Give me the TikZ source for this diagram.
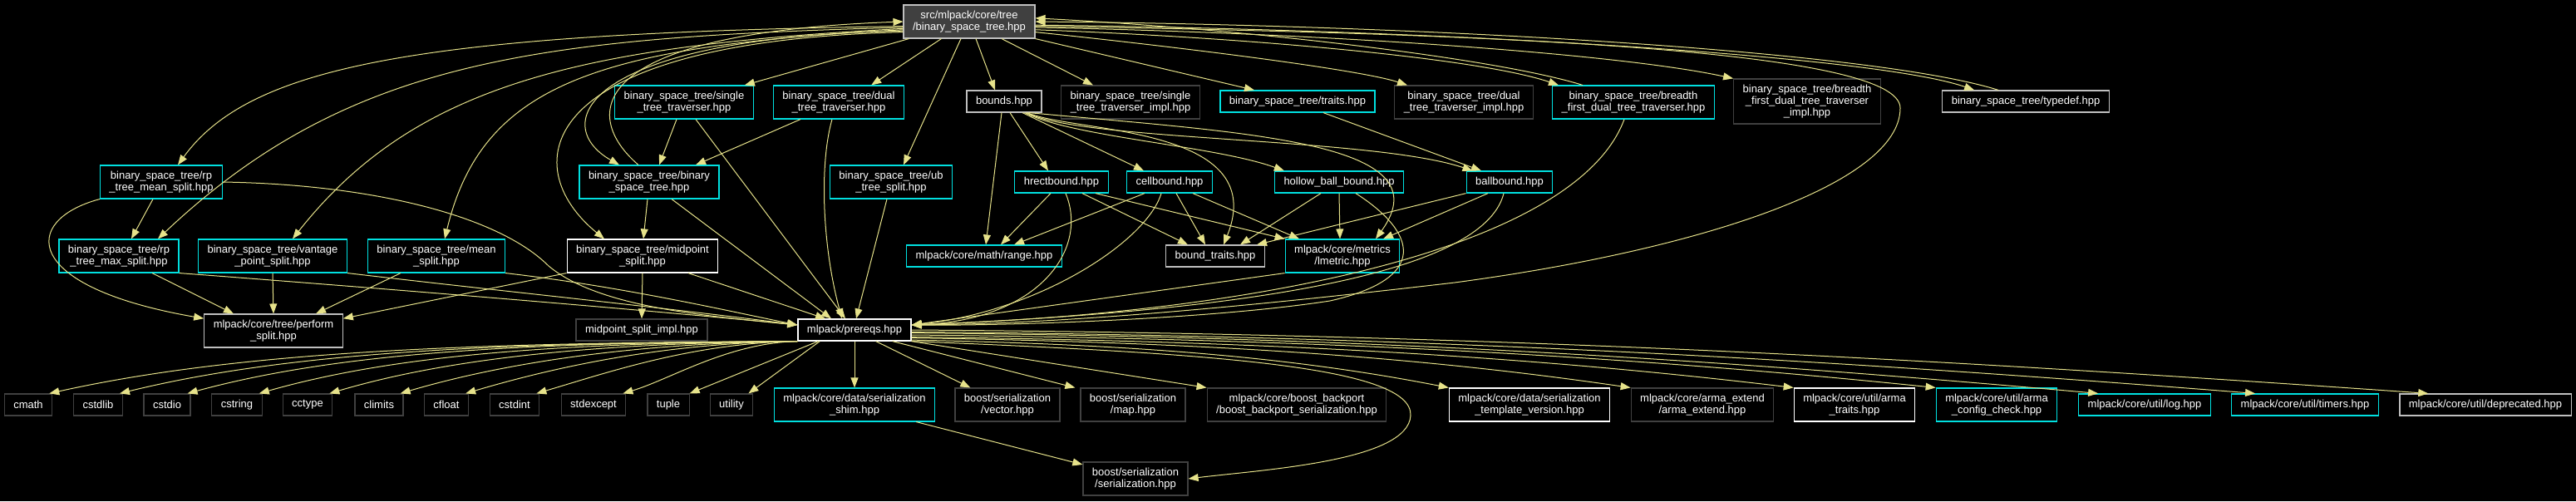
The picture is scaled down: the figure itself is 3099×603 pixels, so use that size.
\documentclass[tikz,border=0pt]{standalone}
\usepackage{fontspec}
\setmainfont{Liberation Sans}
\usetikzlibrary{arrows.meta}
\definecolor{doxcyan}{HTML}{00E0E0}
\definecolor{doxgrey}{HTML}{BFBFBF}
\definecolor{doxdark}{HTML}{404040}
\definecolor{doxedge}{HTML}{E6E28A}
\tikzset{
  >={Triangle[length=12pt,width=9pt]},
  file/.style={rectangle,draw,line width=1.2pt,text=white,align=center,
               inner xsep=11pt,inner ysep=6.9pt,minimum height=26pt,
               font=\fontsize{13}{14}\selectfont},
  docfile/.style={file,draw=doxcyan},
  plainfile/.style={file,draw=white},
  greyfile/.style={file,draw=doxgrey},
  extfile/.style={file,draw=doxdark},
  rootfile/.style={file,draw=doxgrey,fill=doxdark},
  dep/.style={->,color=doxedge,line width=1pt},
}
\begin{document}
\begin{tikzpicture}[x=1pt,y=-1pt]
    \fill[black] (0,0) rectangle (3099,603);
    \useasboundingbox (0,0) rectangle (3099,603);

    % Root
    \node[rootfile] (root) at (1166,26) {src/mlpack/core/tree\\/binary\_space\_tree.hpp};

    % First row
    \node[docfile]  (single)     at (823,123)  {binary\_space\_tree/single\\\_tree\_traverser.hpp};
    \node[docfile]  (dual)       at (1009,123) {binary\_space\_tree/dual\\\_tree\_traverser.hpp};
    \node[greyfile] (bounds)     at (1208,122) {bounds.hpp};
    \node[extfile]  (singleimpl) at (1360,123) {binary\_space\_tree/single\\\_tree\_traverser\_impl.hpp};
    \node[docfile]  (traits)     at (1561,122) {binary\_space\_tree/traits.hpp};
    \node[extfile]  (dualimpl)   at (1761,123) {binary\_space\_tree/dual\\\_tree\_traverser\_impl.hpp};
    \node[docfile]  (bfdual)     at (1965,123) {binary\_space\_tree/breadth\\\_first\_dual\_tree\_traverser.hpp};
    \node[extfile]  (bfimpl)     at (2174,122) {binary\_space\_tree/breadth\\\_first\_dual\_tree\_traverser\\\_impl.hpp};
    \node[greyfile] (typedef)    at (2437,122) {binary\_space\_tree/typedef.hpp};

    % Second row
    \node[docfile] (rpmean) at (194,219)  {binary\_space\_tree/rp\\\_tree\_mean\_split.hpp};
    \node[docfile] (bst)    at (781,219)  {binary\_space\_tree/binary\\\_space\_tree.hpp};
    \node[docfile] (ub)     at (1072,219) {binary\_space\_tree/ub\\\_tree\_split.hpp};
    \node[docfile] (hrect)  at (1277,219) {hrectbound.hpp};
    \node[docfile] (cell)   at (1407,219) {cellbound.hpp};
    \node[docfile] (hollow) at (1611,219) {hollow\_ball\_bound.hpp};
    \node[docfile] (ball)   at (1816,219) {ballbound.hpp};

    % Third row
    \node[docfile]   (rpmax)       at (143,308)  {binary\_space\_tree/rp\\\_tree\_max\_split.hpp};
    \node[docfile]   (vantage)     at (328,308)  {binary\_space\_tree/vantage\\\_point\_split.hpp};
    \node[docfile]   (mean)        at (525,308)  {binary\_space\_tree/mean\\\_split.hpp};
    \node[plainfile] (midpoint)    at (773,308)  {binary\_space\_tree/midpoint\\\_split.hpp};
    \node[docfile]   (range)       at (1184,308) {mlpack/core/math/range.hpp};
    \node[greyfile]  (boundtraits) at (1462,308) {bound\_traits.hpp};
    \node[docfile]   (lmetric)     at (1615,308) {mlpack/core/metrics\\/lmetric.hpp};

    % Fourth row
    \node[greyfile]  (perform) at (329,398)  {mlpack/core/tree/perform\\\_split.hpp};
    \node[extfile]   (midimpl) at (772,397)  {midpoint\_split\_impl.hpp};
    \node[plainfile] (prereqs) at (1028,397) {mlpack/prereqs.hpp};

    % Fifth row
    \foreach \n/\x in {cmath/34,cstdlib/118,cstdio/201,cstring/285,cctype/370,
                       climits/456,cfloat/537,cstdint/619,stdexcept/714,
                       tuple/804,utility/880}
      \node[extfile] (\n) at (\x,487) {\n};
    \node[docfile]   (shim)       at (1028,487) {mlpack/core/data/serialization\\\_shim.hpp};
    \node[extfile]   (vector)     at (1212,487) {boost/serialization\\/vector.hpp};
    \node[extfile]   (map)        at (1363,487) {boost/serialization\\/map.hpp};
    \node[extfile]   (backport)   at (1560,487) {mlpack/core/boost\_backport\\/boost\_backport\_serialization.hpp};
    \node[plainfile] (tmplver)    at (1840,487) {mlpack/core/data/serialization\\\_template\_version.hpp};
    \node[extfile]   (armaext)    at (2048,487) {mlpack/core/arma\_extend\\/arma\_extend.hpp};
    \node[plainfile] (armatraits) at (2231,487) {mlpack/core/util/arma\\\_traits.hpp};
    \node[docfile]   (armacfg)    at (2402,487) {mlpack/core/util/arma\\\_config\_check.hpp};
    \node[docfile]   (log)        at (2580,487) {mlpack/core/util/log.hpp};
    \node[docfile]   (timers)     at (2773,487) {mlpack/core/util/timers.hpp};
    \node[greyfile]  (deprecated) at (2990,487) {mlpack/core/util/deprecated.hpp};

    % Last row
    \node[extfile] (serial) at (1366,576) {boost/serialization\\/serialization.hpp};

    % Arrows from the root
    \draw[dep] (root.184) .. controls (500,40) and (300,80) .. ([xshift=20]rpmean.north);
    \draw[dep] (root.185) .. controls (650,45) and (420,70) .. ([xshift=47]rpmax.north);
    \draw[dep] (root.186) .. controls (700,55) and (500,100) .. ([xshift=24]vantage.north);
    \draw[dep] (root.187) .. controls (720,55) and (580,100) .. ([xshift=10]mean.north);
    \draw[dep] (root.188) .. controls (700,45) and (660,150) .. ([xshift=-36]bst.north);
    \draw[dep] (root.189) .. controls (640,50) and (620,200) .. ([xshift=-46]midpoint.north);
    \draw[dep] ([xshift=-13]bst.north) .. controls (700,140) and (700,40) .. (root.west);
    \draw[dep] ([xshift=7]root.south west) -- ([xshift=-11]single.north east);
    \draw[dep] ([xshift=46]root.south west) -- ([xshift=-40]dual.north east);
    \draw[dep] ([xshift=-10]root.south) -- ([xshift=15]ub.north);
    \draw[dep] ([xshift=8]root.south) -- ([xshift=-11]bounds.north);
    \draw[dep] ([xshift=39]root.south) -- ([xshift=-45]singleimpl.north);
    \draw[dep] (root.south east) -- ([xshift=-52]traits.north);
    \draw[dep] (root.-9) .. controls (1450,60) and (1640,85) .. ([xshift=-68]dualimpl.north);
    \draw[dep] (root.-7) .. controls (1500,45) and (1780,70) .. ([xshift=8]bfdual.north west);
    \draw[dep] ([xshift=37]bfdual.north west) .. controls (1800,70) and (1500,35) .. (root.3);
    \draw[dep] (root.-5) .. controls (1600,40) and (1950,65) .. (bfimpl.north west);
    \draw[dep] (root.-3) .. controls (1700,35) and (2250,65) .. ([xshift=39]typedef.north west);
    \draw[dep] ([xshift=68]typedef.north west) .. controls (2250,60) and (1700,30) .. (root.east);
    \draw[dep] (root.-4) .. controls (1800,40) and (2286,60) .. (2286,130)
               .. controls (2286,220) and (2050,300) .. (1750,340)
               .. controls (1450,375) and (1250,390) .. (prereqs.5);

    % Traversers and splits
    \draw[dep] ([xshift=-9]single.south) -- ([xshift=12]bst.north);
    \draw[dep] ([xshift=14]single.south) -- ([xshift=-11]prereqs.north);
    \draw[dep] ([xshift=-46]dual.south) -- ([xshift=56]bst.north);
    \draw[dep] ([xshift=-8]dual.south) .. controls (985,200) and (990,300) .. ([xshift=-15]prereqs.north);
    \draw[dep] ([xshift=-2]bst.south) -- ([xshift=1]midpoint.north);
    \draw[dep] ([xshift=27]bst.south) -- ([xshift=-28]prereqs.north);
    \draw[dep] ([xshift=-5]ub.south) -- ([xshift=2]prereqs.north);
    \draw[dep] ([xshift=-10]rpmean.south) -- ([xshift=15]rpmax.north);
    \draw[dep] (rpmean.south west) .. controls (25,265) and (25,345) .. (perform.170);
    \draw[dep] (rpmean.east) .. controls (450,222) and (600,260) .. (660,320)
               .. controls (720,370) and (850,380) .. (prereqs.175);
    \draw[dep] ([xshift=40]rpmax.south) -- ([xshift=-48]perform.north);
    \draw[dep] (rpmax.south east) .. controls (500,350) and (800,375) .. (prereqs.175);
    \draw[dep] (vantage.south) -- (perform.north);
    \draw[dep] (vantage.south east) .. controls (600,350) and (800,370) .. (prereqs.175);
    \draw[dep] ([xshift=-43]mean.south) -- ([xshift=51]perform.north);
    \draw[dep] (mean.south east) .. controls (750,345) and (880,375) .. (prereqs.175);
    \draw[dep] (midpoint.south west) -- (perform.10);
    \draw[dep] (midpoint.south) -- (midimpl.north);
    \draw[dep] ([xshift=55]midpoint.south) -- ([xshift=-35]prereqs.north);

    % Bounds
    \draw[dep] ([xshift=-3]bounds.south) -- ([xshift=2]range.north);
    \draw[dep] ([xshift=7]bounds.south) -- ([xshift=-16]hrect.north);
    \draw[dep] ([xshift=22]bounds.south) -- ([xshift=-31]cell.north);
    \draw[dep] ([xshift=25]bounds.south) .. controls (1290,165) and (1460,175) .. ([xshift=12]hollow.north west);
    \draw[dep] ([xshift=27]bounds.south) .. controls (1300,170) and (1650,165) .. ([xshift=8]ball.north west);
    \draw[dep] ([xshift=28]bounds.south) .. controls (1290,160) and (1530,150) .. ([xshift=10]boundtraits.north);
    \draw[dep] ([xshift=30]bounds.south) .. controls (1500,160) and (1740,170) .. ([xshift=40]lmetric.north);
    \draw[dep] ([xshift=-13]hrect.south) -- ([xshift=20]range.north);
    \draw[dep] ([xshift=25]hrect.south) -- ([xshift=-33]boundtraits.north);
    \draw[dep] ([xshift=41]hrect.south) -- (lmetric.north west);
    \draw[dep] ([xshift=5]hrect.south) .. controls (1310,300) and (1250,385) .. (prereqs.5);
    \draw[dep] ([xshift=-30]cell.south) -- ([xshift=36]range.north);
    \draw[dep] ([xshift=8]cell.south) -- ([xshift=-12]boundtraits.north);
    \draw[dep] ([xshift=28]cell.south) -- ([xshift=-52]lmetric.north);
    \draw[dep] ([xshift=-10]cell.south) .. controls (1380,290) and (1250,375) .. (prereqs.5);
    \draw[dep] ([xshift=-22]hollow.south) -- ([xshift=30]boundtraits.north);
    \draw[dep] (hollow.south) -- ([xshift=-3]lmetric.north);
    \draw[dep] ([xshift=20]hollow.south) .. controls (1705,280) and (1720,335) .. (1600,362)
               .. controls (1450,385) and (1200,392) .. (prereqs.5);
    \draw[dep] (ball.south west) -- ([xshift=-10]boundtraits.north east);
    \draw[dep] ([xshift=-26]ball.south) -- ([xshift=49]lmetric.north);
    \draw[dep] ([xshift=-7]ball.south) .. controls (1790,310) and (1600,370) .. (prereqs.5);
    \draw[dep] ([xshift=31]traits.south) -- ([xshift=-34]ball.north);
    \draw[dep] ([xshift=-11]bfdual.south) .. controls (1900,290) and (1550,375) .. (prereqs.5);
    \draw[dep] (lmetric.south west) -- (prereqs.5);

    % Prereqs
    \foreach \t/\a/\b/\k in {cmath/360/243/54,cstdlib/326/220/54,cstdio/294/198/54,
                             cstring/259/175/50,cctype/225/152/45,climits/191/129/38,
                             cfloat/160/108/32,cstdint/126/85/25,stdexcept/84/57/17}
      \draw[dep] (prereqs.south west) .. controls +(-\a,2) and +(\b,-\k) .. ([xshift=-4]\t.north east);
    \draw[dep] ([xshift=25]prereqs.south west) -- (tuple.north east);
    \draw[dep] ([xshift=27]prereqs.south west) -- ([xshift=-6]utility.north east);
    \draw[dep] (prereqs.south) -- (shim.north);
    \draw[dep] ([xshift=-43]prereqs.south east) -- ([xshift=19]vector.north west);
    \draw[dep] ([xshift=-23]prereqs.south east) -- ([xshift=-6]map.north west);
    \draw[dep] (prereqs.south east) -- (backport.north west);
    \foreach \t/\s/\a/\b/\d in {tmplver/-10/259/194/0,armaext/-8/346/260/0,
                                armatraits/-7/425/319/0,armacfg/-5/493/370/0,
                                log/-3/571/428/24,timers/-2/647/485/29,
                                deprecated/0/730/548/35}
      \draw[dep] (prereqs.\s) .. controls +(\a,5) and +(-\b,-38) .. ([xshift=\d]\t.north west);
    \draw[dep] (prereqs.south east) .. controls (1450,425) and (1700,440) .. (1697,500)
               .. controls (1694,555) and (1520,565) .. (serial.east);
    \draw[dep] ([xshift=-23]shim.south east) -- (serial.165);
\end{tikzpicture}
\end{document}
